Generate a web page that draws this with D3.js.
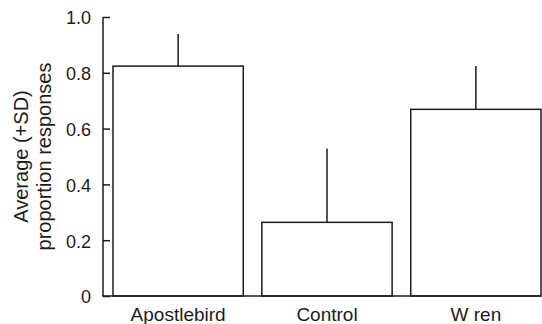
<!DOCTYPE html>
<html>
<head>
<meta charset="utf-8">
<script src="https://cdn.jsdelivr.net/npm/d3@7"></script>
<style>
  html, body { margin: 0; padding: 0; background: #fff; }
  svg { display: block; font-family: "Liberation Sans", Arial, Helvetica, sans-serif; }
</style>
</head>
<body>
<svg id="chart" width="542" height="324"></svg>
<script>
// Response proportions per playback treatment
const categories = ["Apostlebird", "Control", "W ren"];
const means = [0.824, 0.264, 0.669];
const sds = [0.115, 0.265, 0.155];
const yTicks = [0, 0.2, 0.4, 0.6, 0.8, 1.0];
const yTickLabels = ["0", "0.2", "0.4", "0.6", "0.8", "1.0"];

const ink = "#1c1c1c";
const svg = d3.select("#chart");

const axisX = 103, axisBottom = 296, axisTop = 17, axisRight = 541;

const y = d3.scaleLinear().domain([0, 1]).range([axisBottom, axisTop]);
const x = d3.scaleBand()
  .domain(categories)
  .range([113, axisRight])
  .paddingInner(0.125)
  .paddingOuter(0);

// Bars
svg.append("g").selectAll("rect")
  .data(categories)
  .join("rect")
  .attr("x", d => x(d))
  .attr("y", (d, i) => y(means[i]))
  .attr("width", x.bandwidth())
  .attr("height", (d, i) => y(0) - y(means[i]))
  .attr("fill", "#fff")
  .attr("stroke", ink)
  .attr("stroke-width", 1.5);

// Upper SD whiskers
svg.append("g").selectAll("line")
  .data(categories)
  .join("line")
  .attr("x1", d => x(d) + x.bandwidth() / 2)
  .attr("x2", d => x(d) + x.bandwidth() / 2)
  .attr("y1", (d, i) => y(means[i]))
  .attr("y2", (d, i) => y(means[i] + sds[i]))
  .attr("stroke", ink)
  .attr("stroke-width", 1.5);

// Y axis with inward ticks
const yAxis = d3.axisLeft(y)
  .tickValues(yTicks)
  .tickFormat((d, i) => yTickLabels[i])
  .tickSize(-7)
  .tickPadding(12);

const gy = svg.append("g")
  .attr("transform", `translate(${axisX},0)`)
  .call(yAxis);
gy.select(".domain").remove();
gy.selectAll(".tick line").attr("stroke", ink).attr("stroke-width", 1.5);
gy.selectAll(".tick text")
  .attr("fill", ink)
  .attr("dy", "0.38em")
  .style("font-size", "18px")
  .style("font-family", "'Liberation Sans', Arial, sans-serif");

gy.append("line")
  .attr("x1", 0).attr("x2", 0)
  .attr("y1", axisTop).attr("y2", axisBottom)
  .attr("stroke", ink).attr("stroke-width", 1.5);

// X axis baseline and category labels
const gx = svg.append("g")
  .attr("transform", `translate(0,${axisBottom})`)
  .call(d3.axisBottom(x).tickSize(0).tickPadding(12));
gx.select(".domain").remove();
gx.selectAll(".tick text")
  .attr("fill", ink)
  .style("font-size", "19px")
  .style("font-family", "'Liberation Sans', Arial, sans-serif");
gx.append("line")
  .attr("x1", axisX - 0.75).attr("x2", axisRight)
  .attr("y1", 0).attr("y2", 0)
  .attr("stroke", ink).attr("stroke-width", 1.5);

// Y axis title, two lines
const yTitle = svg.append("text")
  .attr("transform", `translate(32,${(axisTop + axisBottom) / 2}) rotate(-90)`)
  .attr("text-anchor", "middle")
  .attr("fill", ink)
  .style("font-size", "20px");
yTitle.append("tspan").attr("x", 0).attr("dy", "-0.2em").text("Average (+SD)");
yTitle.append("tspan").attr("x", 0).attr("dy", "1.15em").text("proportion responses");
</script>
</body>
</html>
